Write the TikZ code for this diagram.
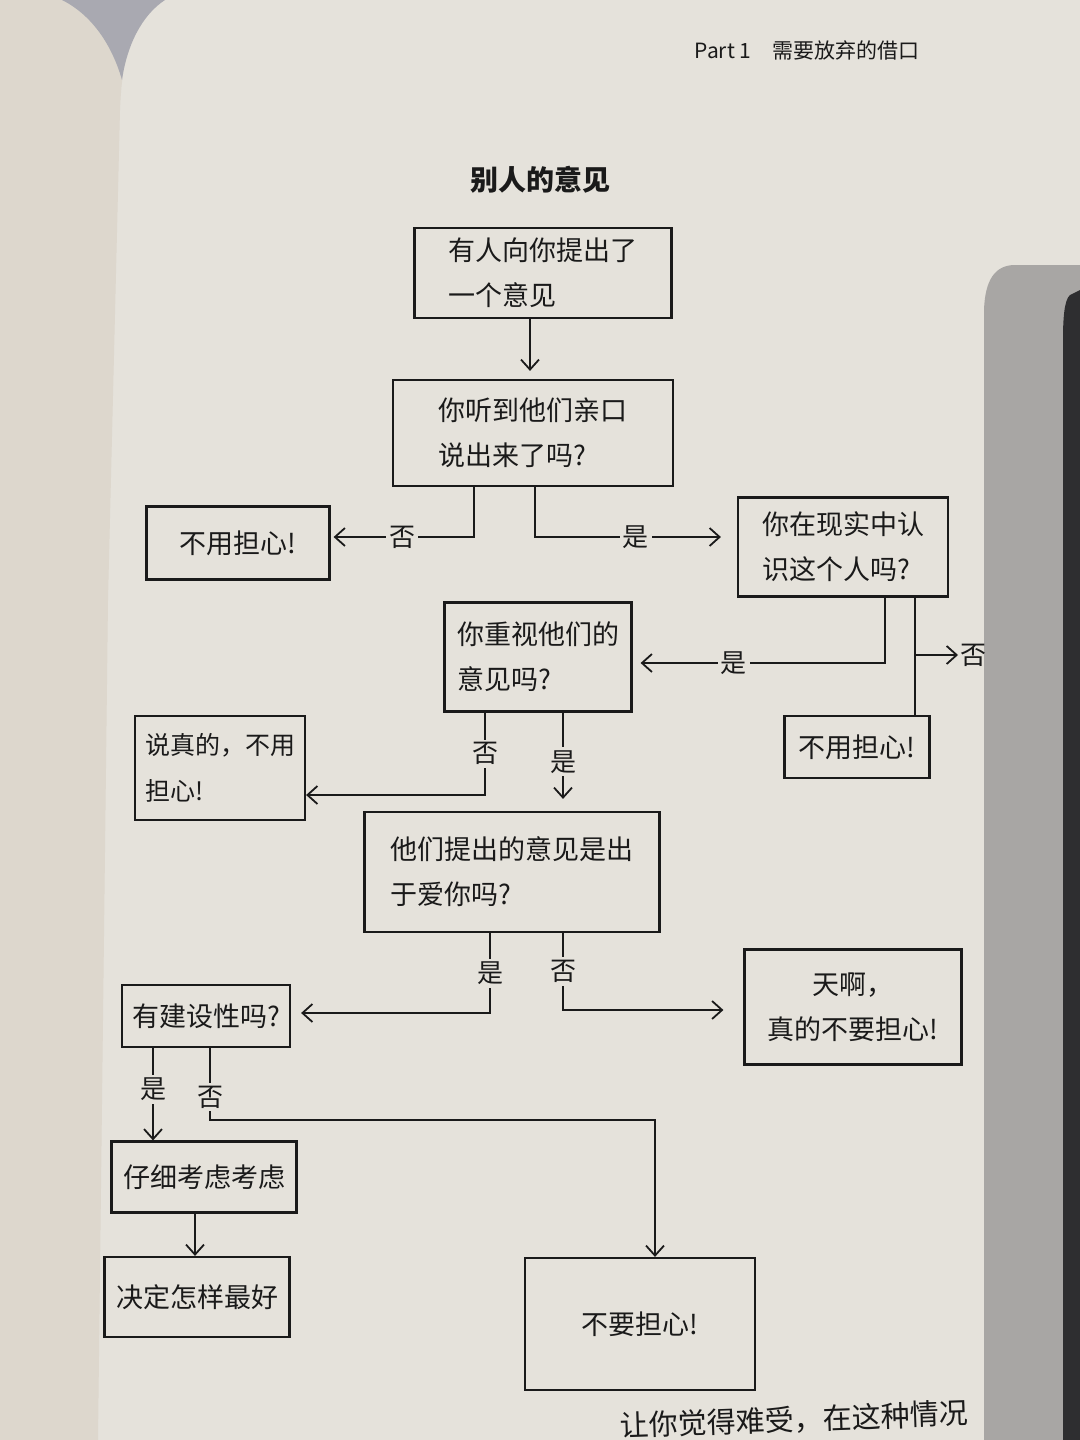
\documentclass[tikz,border=0pt]{standalone}
\usepackage{fontspec}
\setmainfont{Noto Sans CJK SC}
\usetikzlibrary{arrows.meta,calc}
\definecolor{paper}{HTML}{E5E2DB}
\definecolor{leftpage}{HTML}{DDD7CD}
\definecolor{gapgrey}{HTML}{A9A9B1}
\definecolor{shadowgrey}{HTML}{A8A6A4}
\definecolor{darkedge}{HTML}{2E2E30}
\definecolor{ink}{HTML}{1A1A1A}
\newcommand\boxfont{\fontsize{13.5pt}{22.5pt}\selectfont}
\newcommand\smallboxfont{\fontsize{12.5pt}{23pt}\selectfont}
\newcommand\lblfont{\fontsize{13pt}{13pt}\selectfont}
\begin{document}
\begin{tikzpicture}[x=0.5pt,y=-0.5pt,
  box/.style={draw=ink, line width=1.1pt, inner sep=0pt, font=\boxfont, align=left, text=ink},
  conn/.style={draw=ink, line width=0.9pt},
  arr/.style={conn, -{Straight Barb[length=5pt,width=9pt,line width=0.9pt]}},
  lbl/.style={fill=paper, inner sep=1.5pt, font=\lblfont, text=ink},
]
\useasboundingbox (0,0) rectangle (1080,1440);
\clip (0,0) rectangle (1080,1440);
% background
\fill[paper] (0,0) rectangle (1080,1440);
\fill[leftpage] (0,0) -- (150,0) .. controls (130,30) and (122,60) .. (120,110) -- (108,600) -- (98,1440) -- (0,1440) -- cycle;
\fill[gapgrey] (62,0) -- (165,0) .. controls (142,15) and (127,45) .. (122,80) .. controls (112,45) and (92,15) .. (62,0) -- cycle;
\fill[shadowgrey] (1080,265) -- (1015,265) .. controls (995,265) and (985,280) .. (984,310) -- (984,1440) -- (1080,1440) -- cycle;
\fill[darkedge] (1080,290) -- (1070,295) .. controls (1064,300) and (1063,320) .. (1063,340) -- (1063,1440) -- (1080,1440) -- cycle;

% header and title
\node[font=\fontsize{10.5pt}{12pt}\selectfont, text=ink] (hdr) at (807,50) {Part 1\quad 需要放弃的借口};
\node[font=\fontsize{14pt}{16pt}\selectfont\bfseries, text=ink] (title) at (540,180) {别人的意见};

% boxes
\node[box, minimum width=128.5pt, minimum height=45pt] (A) at (543,273) {有人向你提出了\\一个意见};
\node[box, minimum width=140pt, minimum height=53pt] (B) at (533,433) {你听到他们亲口\\说出来了吗?};
\node[box, minimum width=91.5pt, minimum height=36.5pt] (C) at (238,543) {不用担心!};
\node[box, minimum width=105pt, minimum height=49.5pt] (D) at (843,547) {你在现实中认\\识这个人吗?};
\node[box, minimum width=93.5pt, minimum height=54.5pt] (E) at (538,657) {你重视他们的\\意见吗?};
\node[box, minimum width=72.5pt, minimum height=31pt] (F) at (857,747) {不用担心!};
\node[box, minimum width=85pt, minimum height=52pt, font=\smallboxfont] (G) at (220,768) {说真的，不用\\担心!};
\node[box, minimum width=147.5pt, minimum height=60pt] (H) at (512,872) {他们提出的意见是出\\于爱你吗?};
\node[box, minimum width=84pt, minimum height=31pt] (I) at (206,1016) {有建设性吗?};
\node[box, minimum width=108.5pt, minimum height=57.5pt, align=center] (J) at (853,1007) {天啊，\\真的不要担心!};
\node[box, minimum width=92.5pt, minimum height=35.5pt] (K) at (204,1177) {仔细考虑考虑};
\node[box, minimum width=92.5pt, minimum height=40pt] (L) at (197,1297) {决定怎样最好};
\node[box, minimum width=115pt, minimum height=66pt] (M) at (640,1324) {不要担心!};

% connectors
\draw[arr, shorten >=4pt] (530,0 |- A.south) -- (530,0 |- B.north);
\draw[arr, shorten >=1.5pt] (474,0 |- B.south) |- node[lbl, pos=0.75]{否} ([yshift=3pt]C.east);
\draw[arr, shorten >=8pt] (535,0 |- B.south) |- node[lbl, pos=0.75]{是} ([yshift=5pt]D.west);
\draw[arr, shorten >=4pt] (885,0 |- D.south) |- node[lbl, pos=0.8]{是} ([yshift=-3pt]E.east);
\draw[conn] (915,0 |- D.south) -- (915,0 |- F.north);
\coordinate (br) at (915,655);
\coordinate (noD) at (958,655);
\draw[arr] (br) -- (noD) node[right, inner sep=1pt, font=\lblfont, text=ink] {否};
\draw[arr] (485,0 |- E.south) |- node[lbl, pos=0.25]{否} ([yshift=-13.5pt]G.east);
\draw[arr, shorten >=6pt] (563,0 |- E.south) -- node[lbl, pos=0.5]{是} (563,0 |- H.north);
\draw[arr, shorten >=5pt] (490,0 |- H.south) |- node[lbl, pos=0.25]{是} ([yshift=1.5pt]I.east);
\draw[arr, shorten >=10pt] (563,0 |- H.south) |- node[lbl, pos=0.25]{否} ([yshift=-1.5pt]J.west);
\draw[arr] (153,0 |- I.south) -- node[lbl, pos=0.45]{是} (153,0 |- K.north);
\coordinate (bendM) at (655,1120);
\draw[arr] (210,0 |- I.south) |- node[lbl, pos=0.34]{否} (bendM) -- (bendM |- M.north);
\draw[arr] (195,0 |- K.south) -- (195,0 |- L.north);

% partial body text at the bottom
\node[font=\fontsize{14.5pt}{15pt}\selectfont, text=ink, rotate=2, anchor=east] (btm) at (975,1413) {让你觉得难受，在这种情况};
\end{tikzpicture}
\end{document}
